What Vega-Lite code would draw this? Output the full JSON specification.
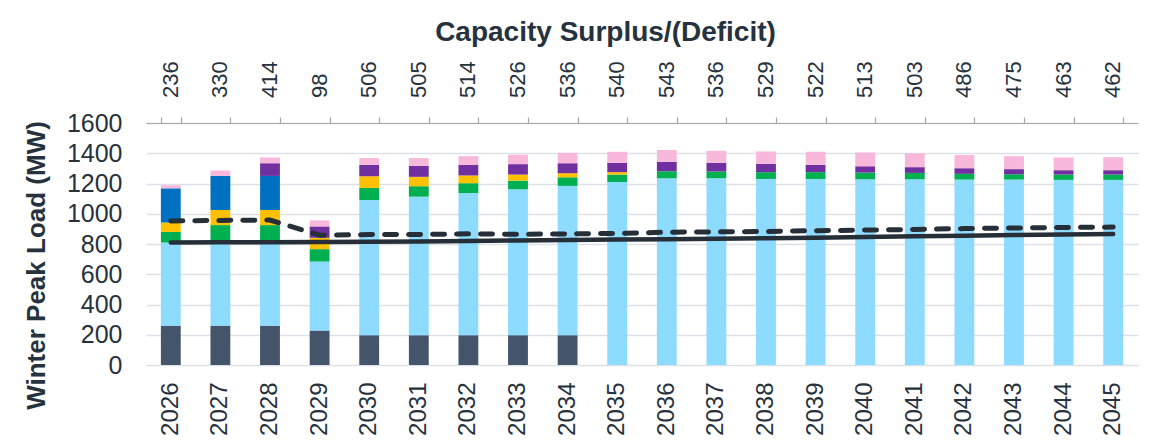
{
  "$schema": "https://vega.github.io/schema/vega-lite/v6.json",
  "autosize": {"type": "none"},
  "padding": {"left": 146, "top": 123, "right": 15, "bottom": 82},
  "width": 992,
  "height": 242,
  "background": "white",
  "config": {
    "font": "Liberation Sans",
    "view": {"stroke": null},
    "axis": {"labelColor": "#26323d", "titleColor": "#26323d", "labelFont": "Liberation Sans", "titleFont": "Liberation Sans"}
  },
  "datasets": {
    "capacity": [
      {"year": 2026, "source": "Thermal", "mw": 260}, {"year": 2026, "source": "Hydro & Contracts", "mw": 550}, {"year": 2026, "source": "Wind", "mw": 70}, {"year": 2026, "source": "Solar", "mw": 62}, {"year": 2026, "source": "Market Purchases", "mw": 226}, {"year": 2026, "source": "Demand Response", "mw": 20},
      {"year": 2027, "source": "Thermal", "mw": 260}, {"year": 2027, "source": "Hydro & Contracts", "mw": 555}, {"year": 2027, "source": "Wind", "mw": 110}, {"year": 2027, "source": "Solar", "mw": 100}, {"year": 2027, "source": "Market Purchases", "mw": 225}, {"year": 2027, "source": "Demand Response", "mw": 36},
      {"year": 2028, "source": "Thermal", "mw": 260}, {"year": 2028, "source": "Hydro & Contracts", "mw": 555}, {"year": 2028, "source": "Wind", "mw": 110}, {"year": 2028, "source": "Solar", "mw": 100}, {"year": 2028, "source": "Market Purchases", "mw": 225}, {"year": 2028, "source": "Storage", "mw": 84}, {"year": 2028, "source": "Demand Response", "mw": 38},
      {"year": 2029, "source": "Thermal", "mw": 228}, {"year": 2029, "source": "Hydro & Contracts", "mw": 456}, {"year": 2029, "source": "Wind", "mw": 82}, {"year": 2029, "source": "Solar", "mw": 75}, {"year": 2029, "source": "Storage", "mw": 75}, {"year": 2029, "source": "Demand Response", "mw": 40},
      {"year": 2030, "source": "Thermal", "mw": 197}, {"year": 2030, "source": "Hydro & Contracts", "mw": 894}, {"year": 2030, "source": "Wind", "mw": 80}, {"year": 2030, "source": "Solar", "mw": 77}, {"year": 2030, "source": "Storage", "mw": 75}, {"year": 2030, "source": "Demand Response", "mw": 45},
      {"year": 2031, "source": "Thermal", "mw": 197}, {"year": 2031, "source": "Hydro & Contracts", "mw": 916}, {"year": 2031, "source": "Wind", "mw": 69}, {"year": 2031, "source": "Solar", "mw": 62}, {"year": 2031, "source": "Storage", "mw": 73}, {"year": 2031, "source": "Demand Response", "mw": 51},
      {"year": 2032, "source": "Thermal", "mw": 197}, {"year": 2032, "source": "Hydro & Contracts", "mw": 940}, {"year": 2032, "source": "Wind", "mw": 65}, {"year": 2032, "source": "Solar", "mw": 51}, {"year": 2032, "source": "Storage", "mw": 70}, {"year": 2032, "source": "Demand Response", "mw": 58},
      {"year": 2033, "source": "Thermal", "mw": 197}, {"year": 2033, "source": "Hydro & Contracts", "mw": 965}, {"year": 2033, "source": "Wind", "mw": 57}, {"year": 2033, "source": "Solar", "mw": 40}, {"year": 2033, "source": "Storage", "mw": 69}, {"year": 2033, "source": "Demand Response", "mw": 62},
      {"year": 2034, "source": "Thermal", "mw": 197}, {"year": 2034, "source": "Hydro & Contracts", "mw": 987}, {"year": 2034, "source": "Wind", "mw": 57}, {"year": 2034, "source": "Solar", "mw": 27}, {"year": 2034, "source": "Storage", "mw": 66}, {"year": 2034, "source": "Demand Response", "mw": 69},
      {"year": 2035, "source": "Hydro & Contracts", "mw": 1210}, {"year": 2035, "source": "Wind", "mw": 49}, {"year": 2035, "source": "Solar", "mw": 16}, {"year": 2035, "source": "Storage", "mw": 62}, {"year": 2035, "source": "Demand Response", "mw": 73},
      {"year": 2036, "source": "Hydro & Contracts", "mw": 1235}, {"year": 2036, "source": "Wind", "mw": 46}, {"year": 2036, "source": "Storage", "mw": 62}, {"year": 2036, "source": "Demand Response", "mw": 78},
      {"year": 2037, "source": "Hydro & Contracts", "mw": 1235}, {"year": 2037, "source": "Wind", "mw": 44}, {"year": 2037, "source": "Storage", "mw": 58}, {"year": 2037, "source": "Demand Response", "mw": 79},
      {"year": 2038, "source": "Hydro & Contracts", "mw": 1230}, {"year": 2038, "source": "Wind", "mw": 45}, {"year": 2038, "source": "Storage", "mw": 55}, {"year": 2038, "source": "Demand Response", "mw": 82},
      {"year": 2039, "source": "Hydro & Contracts", "mw": 1230}, {"year": 2039, "source": "Wind", "mw": 45}, {"year": 2039, "source": "Storage", "mw": 48}, {"year": 2039, "source": "Demand Response", "mw": 87},
      {"year": 2040, "source": "Hydro & Contracts", "mw": 1228}, {"year": 2040, "source": "Wind", "mw": 44}, {"year": 2040, "source": "Storage", "mw": 42}, {"year": 2040, "source": "Demand Response", "mw": 91},
      {"year": 2041, "source": "Hydro & Contracts", "mw": 1228}, {"year": 2041, "source": "Wind", "mw": 42}, {"year": 2041, "source": "Storage", "mw": 38}, {"year": 2041, "source": "Demand Response", "mw": 91},
      {"year": 2042, "source": "Hydro & Contracts", "mw": 1226}, {"year": 2042, "source": "Wind", "mw": 38}, {"year": 2042, "source": "Storage", "mw": 37}, {"year": 2042, "source": "Demand Response", "mw": 87},
      {"year": 2043, "source": "Hydro & Contracts", "mw": 1226}, {"year": 2043, "source": "Wind", "mw": 35}, {"year": 2043, "source": "Storage", "mw": 34}, {"year": 2043, "source": "Demand Response", "mw": 86},
      {"year": 2044, "source": "Hydro & Contracts", "mw": 1224}, {"year": 2044, "source": "Wind", "mw": 35}, {"year": 2044, "source": "Storage", "mw": 29}, {"year": 2044, "source": "Demand Response", "mw": 84},
      {"year": 2045, "source": "Hydro & Contracts", "mw": 1224}, {"year": 2045, "source": "Wind", "mw": 35}, {"year": 2045, "source": "Storage", "mw": 29}, {"year": 2045, "source": "Demand Response", "mw": 86}
    ],
    "annual": [
      {"year": 2026, "load": 810, "requirement": 952, "surplus": 236},
      {"year": 2027, "load": 811, "requirement": 956, "surplus": 330},
      {"year": 2028, "load": 812, "requirement": 958, "surplus": 414},
      {"year": 2029, "load": 813, "requirement": 858, "surplus": 98},
      {"year": 2030, "load": 815, "requirement": 862, "surplus": 506},
      {"year": 2031, "load": 817, "requirement": 863, "surplus": 505},
      {"year": 2032, "load": 820, "requirement": 867, "surplus": 514},
      {"year": 2033, "load": 823, "requirement": 864, "surplus": 526},
      {"year": 2034, "load": 826, "requirement": 867, "surplus": 536},
      {"year": 2035, "load": 829, "requirement": 870, "surplus": 540},
      {"year": 2036, "load": 832, "requirement": 878, "surplus": 543},
      {"year": 2037, "load": 835, "requirement": 880, "surplus": 536},
      {"year": 2038, "load": 838, "requirement": 883, "surplus": 529},
      {"year": 2039, "load": 842, "requirement": 888, "surplus": 522},
      {"year": 2040, "load": 847, "requirement": 892, "surplus": 513},
      {"year": 2041, "load": 851, "requirement": 896, "surplus": 503},
      {"year": 2042, "load": 855, "requirement": 902, "surplus": 486},
      {"year": 2043, "load": 859, "requirement": 906, "surplus": 475},
      {"year": 2044, "load": 862, "requirement": 909, "surplus": 463},
      {"year": 2045, "load": 866, "requirement": 912, "surplus": 462}
    ]
  },
  "resolve": {"axis": {"x": "independent", "y": "independent"}},
  "layer": [
    {
      "data": {"name": "capacity"},
      "transform": [
        {"calculate": "indexof(['Thermal','Hydro & Contracts','Wind','Solar','Market Purchases','Storage','Demand Response'], datum.source)", "as": "stackOrder"}
      ],
      "mark": {"type": "bar", "width": {"band": 1}},
      "encoding": {
        "x": {
          "field": "year", "type": "ordinal",
          "scale": {"paddingInner": 0.6, "paddingOuter": 0.3},
          "axis": {"orient": "bottom", "title": null, "labelAngle": 270, "labelAlign": "right", "labelBaseline": "middle", "labelPadding": 17, "labelFontSize": 24, "ticks": false, "tickSize": 0, "domain": false, "grid": false}
        },
        "y": {
          "field": "mw", "type": "quantitative", "stack": "zero",
          "scale": {"domain": [0, 1600], "nice": false},
          "axis": {"orient": "left", "format": "d", "values": [0, 200, 400, 600, 800, 1000, 1200, 1400, 1600], "title": "Winter Peak Load (MW)", "titleFontSize": 26, "titleFontWeight": "bold", "titleAngle": 270, "titleX": -123, "titleY": 142, "titleAlign": "center", "titleBaseline": "top", "labelFontSize": 25, "labelPadding": 24, "ticks": false, "domain": false, "grid": true, "gridColor": "#dde1e7", "gridWidth": 1.5}
        },
        "color": {
          "field": "source", "type": "nominal", "legend": null,
          "scale": {
            "domain": ["Thermal", "Hydro & Contracts", "Wind", "Solar", "Market Purchases", "Storage", "Demand Response"],
            "range": ["#44546a", "#8ddbfe", "#00b050", "#ffc000", "#0070c0", "#7030a0", "#f7b8db"]
          }
        },
        "order": {"field": "stackOrder", "type": "quantitative"}
      }
    },
    {
      "data": {"name": "annual"},
      "mark": {"type": "line", "stroke": "#262f38", "strokeWidth": 4.5, "strokeCap": "round"},
      "encoding": {
        "x": {
          "field": "year", "type": "ordinal",
          "axis": {"orient": "top", "labels": false, "ticks": true, "tickBand": "extent", "tickSize": 6, "tickColor": "#a6a6a6", "tickWidth": 1.2, "domain": true, "domainColor": "#a6a6a6", "domainWidth": 1.2, "grid": false,
            "title": "Capacity Surplus/(Deficit)", "titleFontSize": 28, "titleFontWeight": "bold", "titleX": 459, "titleY": -83, "titleAlign": "center", "titleBaseline": "alphabetic", "titleAngle": 0}
        },
        "y": {"field": "load", "type": "quantitative", "axis": null}
      }
    },
    {
      "data": {"name": "annual"},
      "mark": {"type": "line", "stroke": "#262f38", "strokeWidth": 5, "strokeCap": "round", "strokeDash": [12, 12]},
      "encoding": {
        "x": {"field": "year", "type": "ordinal", "axis": null},
        "y": {"field": "requirement", "type": "quantitative", "axis": null}
      }
    },
    {
      "data": {"name": "annual"},
      "mark": {"type": "text", "angle": 270, "align": "left", "baseline": "middle", "dx": 25, "fontSize": 22, "color": "#26323d"},
      "encoding": {
        "x": {"field": "year", "type": "ordinal", "axis": null},
        "y": {"datum": 1600, "type": "quantitative", "axis": null},
        "text": {"field": "surplus", "type": "quantitative"}
      }
    }
  ]
}
